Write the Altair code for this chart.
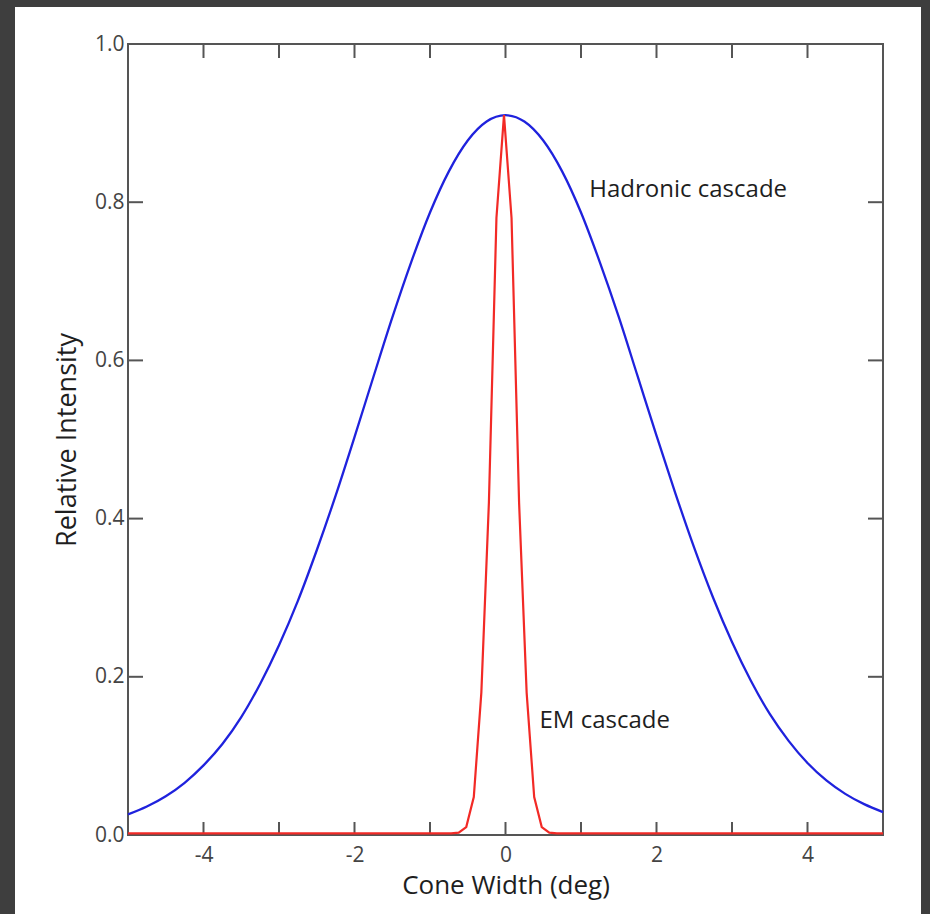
import altair as alt
import pandas as pd

# ---- data ----
had_x = [-5.0, -4.75, -4.5, -4.25, -4.0, -3.75, -3.5, -3.25, -3.0, -2.75, -2.5,
         -2.25, -2.0, -1.75, -1.5, -1.25, -1.0, -0.75, -0.5, -0.25, 0.0,
         0.25, 0.5, 0.75, 1.0, 1.25, 1.5, 1.75, 2.0, 2.25, 2.5,
         2.75, 3.0, 3.25, 3.5, 3.75, 4.0, 4.25, 4.5, 4.75, 5.0]
had_y = [0.026, 0.036, 0.049, 0.066, 0.088, 0.115, 0.149, 0.191, 0.240, 0.296, 0.360,
         0.429, 0.503, 0.579, 0.654, 0.724, 0.787, 0.839, 0.878, 0.902, 0.910,
         0.902, 0.878, 0.839, 0.787, 0.724, 0.655, 0.580, 0.505, 0.432, 0.363,
         0.300, 0.244, 0.195, 0.153, 0.119, 0.091, 0.069, 0.052, 0.039, 0.029]

em_x = [-5.0, -0.72, -0.62, -0.52, -0.42, -0.32, -0.22, -0.12, -0.02,
        0.08, 0.18, 0.28, 0.38, 0.48, 0.58, 0.68, 5.0]
em_y = [0.002, 0.002, 0.003, 0.010, 0.048, 0.180, 0.420, 0.780, 0.910,
        0.780, 0.420, 0.180, 0.048, 0.010, 0.003, 0.002, 0.002]

x_ticks = [-4, -3, -2, -1, 0, 1, 2, 3, 4]
x_labels = [-4, -2, 0, 2, 4]
y_ticks = [0.2, 0.4, 0.6, 0.8]
y_labels = [0.0, 0.2, 0.4, 0.6, 0.8, 1.0]

ann_text = ["Hadronic cascade", "EM cascade"]
ann_x = [1.11, 0.45]
ann_y = [0.807, 0.135]

W, H = 755, 791
FONT = "Open Sans"
AXIS_COLOR = "#555555"

had = pd.DataFrame({"x": had_x, "y": had_y})
em = pd.DataFrame({"x": em_x, "y": em_y})
xt = pd.DataFrame({"x": x_ticks})
yt = pd.DataFrame({"y": y_ticks})
ann = pd.DataFrame({"x": ann_x, "y": ann_y, "t": ann_text})
one = pd.DataFrame({"a": [0]})

xs = alt.Scale(domain=[-5, 5], nice=False, zero=False)
ys = alt.Scale(domain=[0, 1], nice=False, zero=False)

card = alt.Chart(one).mark_rect(fill="white").encode(
    x=alt.value(-113), x2=alt.value(793), y=alt.value(-37), y2=alt.value(890)
)

frame = alt.Chart(one).mark_rect(fillOpacity=0, stroke=AXIS_COLOR, strokeWidth=2).encode(
    x=alt.value(0), x2=alt.value(W), y=alt.value(0), y2=alt.value(H)
)

label_style = dict(labelFont=FONT, labelFontSize=21, labelColor="#444444",
                   titleFont=FONT, titleColor="#1e1e1e", titleFontWeight="normal",
                   zindex=2)

blue = alt.Chart(had).mark_line(color="#1f22dd", strokeWidth=2.3, interpolate="monotone").encode(
    x=alt.X("x:Q", scale=xs,
            axis=alt.Axis(values=x_labels, titleFontSize=26,
                          labelExpr="datum.value < 0 ? '-' + abs(datum.value) : '' + datum.value",
                          labelPadding=9, title="Cone Width (deg)",
                          titleX=W / 2, titleY=50, titleAlign="center", titleBaseline="middle",
                          **label_style)),
    y=alt.Y("y:Q", scale=ys,
            axis=alt.Axis(values=y_labels, format=".1f", labelPadding=4, titleFontSize=27,
                          title="Relative Intensity", titleX=-61, titleY=H / 2,
                          titleAngle=270, titleAlign="center", titleBaseline="middle",
                          **label_style)),
)

red = alt.Chart(em).mark_line(color="#f22a26", strokeWidth=2.2).encode(
    x=alt.X("x:Q", scale=xs), y=alt.Y("y:Q", scale=ys)
)

tick_style = dict(color=AXIS_COLOR, strokeWidth=2)
t_bottom = alt.Chart(xt).mark_rule(**tick_style).encode(
    x=alt.X("x:Q", scale=xs), y=alt.value(H), y2=alt.value(H - 13))
t_top = alt.Chart(xt).mark_rule(**tick_style).encode(
    x=alt.X("x:Q", scale=xs), y=alt.value(0), y2=alt.value(14))
t_left = alt.Chart(yt).mark_rule(**tick_style).encode(
    y=alt.Y("y:Q", scale=ys), x=alt.value(0), x2=alt.value(15))
t_right = alt.Chart(yt).mark_rule(**tick_style).encode(
    y=alt.Y("y:Q", scale=ys), x=alt.value(W), x2=alt.value(W - 15))

texts = alt.Chart(ann).mark_text(align="left", baseline="alphabetic", font=FONT,
                                  fontSize=24, color="#1e1e1e").encode(
    x=alt.X("x:Q", scale=xs), y=alt.Y("y:Q", scale=ys), text="t:N")

chart = alt.layer(card, frame, t_bottom, t_top, t_left, t_right, blue, red, texts).properties(
    width=W, height=H,
    padding={"left": 128, "top": 44, "right": 47, "bottom": 79},
    autosize=alt.AutoSizeParams(type="none"),
    background="#3e3e3e",
).configure_view(stroke=None).configure_axis(
    domain=False, ticks=False, grid=False,
)

chart.save("out.html", embed_options={"renderer": "svg", "actions": False})
